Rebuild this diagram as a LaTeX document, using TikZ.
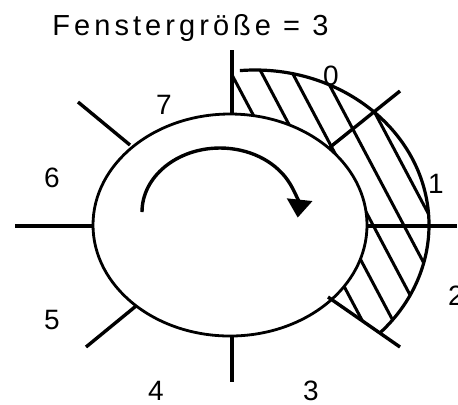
\documentclass[tikz,border=0pt]{standalone}
\usepackage{fontspec}
\setmainfont{Liberation Sans}
\usetikzlibrary{
    arrows.meta,
    calc
}

\begin{document}
\begin{tikzpicture}[
    x=0.5pt,
    y=-0.5pt,
    >=Latex,
    tick/.style={line width=1.7pt},
    hatch line/.style={line width=1.5pt},
    window border/.style={line width=1.6pt},
    ring/.style={line width=1.4pt, fill=white},
    turn arrow/.style={-{Triangle[width=12.5pt, length=9pt]}, line width=1.7pt},
    slot label/.style={font=\fontsize{14}{16}\selectfont, inner sep=0pt},
    every node/.style={inner sep=0pt}
]

\useasboundingbox (0,0) rectangle (458,404);

% -------------------------------------------------
% Centres of ring and window
% -------------------------------------------------

\coordinate (ring) at (230,225);
\coordinate (win) at (255,225);

% -------------------------------------------------
% Sliding window (hatched)
% -------------------------------------------------

\begin{scope}
    \clip (232,71)
        -- ($(win)+(-95:174 and 155)$)
        arc[start angle=-95, end angle=44, x radius=174, y radius=155]
        -- (ring) -- cycle;

    \foreach \k in {0,...,4}
        \draw[hatch line]
            ({231+30.7*\k-0.53*30},43) -- ({231+30.7*\k+0.53*330},403);
\end{scope}

% Outer border of the window
\draw[window border]
    ($(win)+(-95:174 and 155)$)
    arc[start angle=-95, end angle=44, x radius=174, y radius=155];

% -------------------------------------------------
% Sequence number ring
% -------------------------------------------------

\draw[ring] (ring) ellipse[x radius=137, y radius=111];

% Slot borders
\foreach \i/\ix/\iy/\ox/\oy in {
    0/232/113/232/50,
    1/329/148/400/91,
    2/367/226/457/226,
    3/328/297/400/347,
    4/232/335/232/382,
    5/136/306/86/347,
    6/93/226/15/226,
    7/130/145/78/102}
{
    \coordinate (in\i) at (\ix,\iy);
    \coordinate (out\i) at (\ox,\oy);
    \draw[tick] (in\i) -- (out\i);
}

% Direction of rotation
\draw[turn arrow]
    (142,212) arc[start angle=180, end angle=365, x radius=78, y radius=64];

% -------------------------------------------------
% Labels
% -------------------------------------------------

\foreach \i/\x/\y in {
    0/331/76,
    1/436/184,
    2/456/296,
    3/311/391,
    4/156/391,
    5/52/320,
    6/52/178,
    7/164/105}
    \node[slot label] (seq\i) at (\x,\y) {\i};

\node[anchor=base west, font=\fontsize{14.5}{17}\selectfont\addfontfeatures{LetterSpace=14}]
    (title) at (52,35) {Fenstergröße = 3};

\end{tikzpicture}
\end{document}
